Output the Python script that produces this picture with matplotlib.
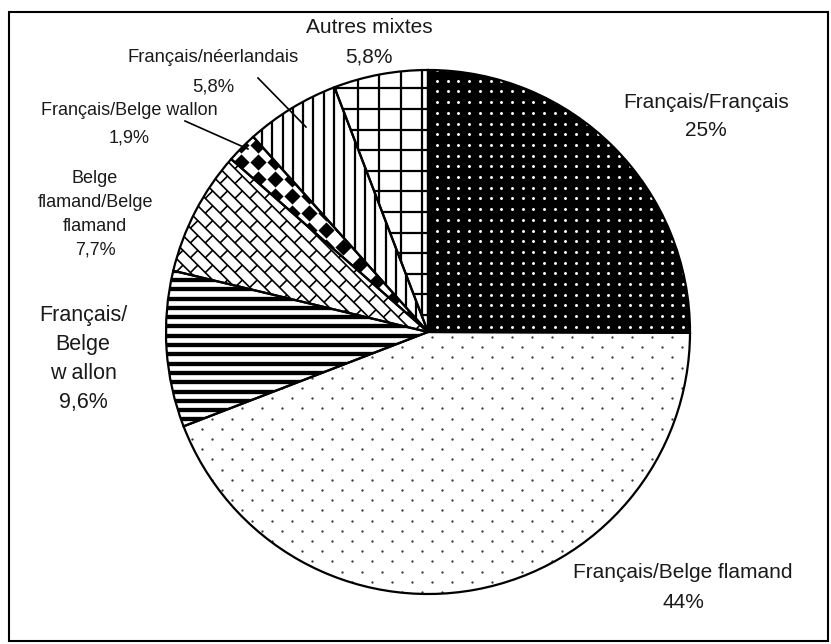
import numpy as np
import matplotlib
matplotlib.use("Agg")
import matplotlib.pyplot as plt
from matplotlib.collections import LineCollection
from matplotlib.patches import Wedge, Rectangle

# ---------------- data ----------------
categories = ["Français/Français", "Français/Belge flamand", "Français/Belge wallon",
              "Belge flamand/Belge flamand", "Français/Belge wallon (2)",
              "Français/néerlandais", "Autres mixtes"]
values = [25, 44, 9.6, 7.7, 1.9, 5.8, 5.8]
label_texts = ["Français/Français\n25%",
               "Français/Belge flamand\n44%",
               "Français/\nBelge\nw allon\n9,6%",
               "Belge\nflamand/Belge\nflamand\n7,7%",
               "Français/Belge wallon\n1,9%",
               "Français/néerlandais\n5,8%",
               "Autres mixtes\n5,8%"]

# ---------------- layout / style ----------------
W, H = 831, 644
CX, CY, R = 428, 332, 262
# (x centre, y of first line, line spacing px, fontsize pt)
label_pos = [(706, 102, 28, 15), (683, 573, 30, 15), (83, 315, 29, 15.5),
             (95, 178, 24, 13), (129, 110, 28, 13), (213, 57, 30, 13.3),
             (369, 27, 30, 15)]
leaders = {5: ((258, 78), (306, 127)), 4: ((185, 121), (248, 149))}
face = ["black", "white", "white", "white", "white", "white", "white"]

plt.rcParams["font.family"] = ["Liberation Sans", "DejaVu Sans"]

fig = plt.figure(figsize=(W / 100, H / 100), dpi=100)
ax = fig.add_axes([0, 0, 1, 1])
wedges, _ = ax.pie(values, startangle=-90, counterclock=True, center=(CX, CY),
                   radius=R, colors=face, wedgeprops=dict(edgecolor="none", linewidth=0))
ax.set_xlim(0, W)
ax.set_ylim(H, 0)
ax.set_aspect("equal")
ax.axis("off")

x0, x1, y0, y1 = CX - R - 5, CX + R + 5, CY - R - 5, CY + R + 5

# 0: black with white dots (square grid)
xs = np.arange(437 - 10.7 * 30, x1, 10.7)
ys = np.arange(70 - 10.7 * 10, y1, 10.7)
gx, gy = np.meshgrid(xs, ys)
sc = ax.scatter(gx.ravel(), gy.ravel(), s=4.5, c="white", linewidths=0, zorder=3)
sc.set_clip_path(wedges[0])

# 1: white with staggered grey dots
pts = []
for i, yy in enumerate(np.arange(337 - 10.2 * 40, y1, 10.2)):
    off = 0 if i % 2 == 0 else 10
    for xx in np.arange(432 - 20 * 20 + off, x1, 20):
        pts.append((xx, yy))
pts = np.array(pts)
sc = ax.scatter(pts[:, 0], pts[:, 1], s=2.8, c="#3a3a3a", linewidths=0, zorder=3)
sc.set_clip_path(wedges[1])

# 2: horizontal stripes
segs = [((x0, yy), (x1, yy)) for yy in np.arange(280 - 9.3 * 40, y1, 9.3)]
lc = LineCollection(segs, colors="black", linewidths=3.1, zorder=3)
ax.add_collection(lc)
lc.set_clip_path(wedges[2])

# 3: diagonal brick pattern
u = np.array([1, 1]) / np.sqrt(2)
v = np.array([1, -1]) / np.sqrt(2)
org = np.array([CX, CY])
h, L, A = 10.5, 21.0, 1.6 * R
segs = []
for k in range(-40, 41):
    segs.append((org + (-A) * u + k * h * v, org + A * u + k * h * v))
    for j in range(-40, 41):
        a = j * L + (k % 2) * L / 2
        segs.append((org + a * u + k * h * v, org + a * u + (k + 1) * h * v))
lc = LineCollection(segs, colors="black", linewidths=1.2, zorder=3)
ax.add_collection(lc)
lc.set_clip_path(wedges[3])

# 4: black diamonds (checkerboard-like)
xs = np.arange(CX - 17 * 30, x1, 17)
ys = np.arange(CY - 17 * 30, y1, 17)
gx, gy = np.meshgrid(xs, ys)
sc = ax.scatter(gx.ravel(), gy.ravel(), s=68, marker="D", c="black", linewidths=0, zorder=3)
sc.set_clip_path(wedges[4])

# 5: vertical lines
segs = [((xx, y0), (xx, y1)) for xx in np.arange(262 - 10.3 * 20, x1, 10.3)]
lc = LineCollection(segs, colors="black", linewidths=1.6, zorder=3)
ax.add_collection(lc)
lc.set_clip_path(wedges[5])

# 6: square grid
segs = [((xx, y0), (xx, y1)) for xx in np.arange(422 - 21.5 * 20, x1, 21.5)]
segs += [((x0, yy), (x1, yy)) for yy in np.arange(109 - 20.6 * 10, y1, 20.6)]
lc = LineCollection(segs, colors="black", linewidths=1.6, zorder=3)
ax.add_collection(lc)
lc.set_clip_path(wedges[6])

# outlines
for w in wedges:
    ax.add_patch(Wedge(w.center, w.r, w.theta1, w.theta2, fill=False,
                       edgecolor="black", linewidth=1.6, zorder=4))

# labels
for txt, (lx, ly, dy, fs) in zip(label_texts, label_pos):
    for n, line in enumerate(txt.split("\n")):
        ax.text(lx, ly + n * dy, line, ha="center", va="center", fontsize=fs,
                color="#1a1a1a", zorder=5)

for (p, q) in leaders.values():
    ax.plot([p[0], q[0]], [p[1], q[1]], color="black", lw=1.2, zorder=6)

# frame
ax.add_patch(Rectangle((9, 12), 819, 629, fill=False, edgecolor="black",
                       linewidth=1.5, clip_on=False, zorder=7))

fig.savefig("out.png", dpi=100)
